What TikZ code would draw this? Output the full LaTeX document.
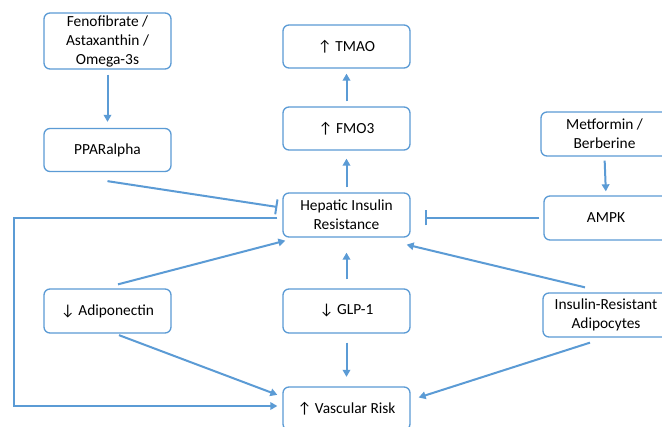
\documentclass[tikz,border=0pt]{standalone}
\usepackage{fontspec}
\setmainfont{Carlito}
\usetikzlibrary{arrows.meta,calc}
\definecolor{bblue}{HTML}{5B9BD5}
\begin{document}
\begin{tikzpicture}[x=1pt,y=-1pt,
  box/.style={draw=bblue,line width=1.3pt,rounded corners=6pt,align=center,
    inner sep=2pt,font=\fontsize{15.4}{19}\selectfont,text=black},
  arr/.style={draw=bblue,line width=2pt,-{Triangle[length=7pt,width=7.5pt]}},
  inh/.style={draw=bblue,line width=2pt,-{Bar[width=15pt,line width=2pt]}}]
\useasboundingbox (0,0) rectangle (662,427);
\fill[white] (0,0) rectangle (662,427);
% nodes
\node[box,minimum width=127pt,minimum height=56pt] (feno) at (107.5,41) {Fenofibrate /\\Astaxanthin /\\Omega-3s};
\node[box,minimum width=127pt,minimum height=43pt] (ppar) at (107.5,150) {PPARalpha};
\node[box,minimum width=127pt,minimum height=43pt] (tmao) at (346.5,46.5) {↑ TMAO};
\node[box,minimum width=127pt,minimum height=43pt] (fmo) at (346.5,128.5) {↑ FMO3};
\node[box,minimum width=127pt,minimum height=44pt] (met) at (604.5,134) {Metformin /\\Berberine};
\node[box,minimum width=124pt,minimum height=44pt] (ampk) at (606,218) {AMPK};
\node[box,minimum width=127pt,minimum height=44pt] (hep) at (346.5,215) {Hepatic Insulin\\Resistance};
\node[box,minimum width=127pt,minimum height=44pt] (adipo) at (107.5,311) {↓ Adiponectin};
\node[box,minimum width=127pt,minimum height=44pt] (glp) at (346.5,311) {↓ GLP-1};
\node[box,minimum width=126pt,minimum height=44pt] (ira) at (606,315) {Insulin-Resistant\\Adipocytes};
\node[box,minimum width=127pt,minimum height=43pt] (vasc) at (346.5,408.5) {↑ Vascular Risk};
% connectors
\draw[arr,shorten <=5pt,shorten >=6pt] (feno.south) -- (ppar.north);
\draw[arr,shorten <=5pt,shorten >=8pt] (hep.north) -- (fmo.south);
\draw[arr,shorten <=5pt,shorten >=5pt] (fmo.north) -- (tmao.south);
\draw[arr,shorten <=4pt,shorten >=4pt] (met.south) -- (ampk.north);
\draw[inh] ($(ppar.south)+(0,9)$) -- ($(hep.west)+(-5,-8)$);
\draw[inh] ($(ampk.west)+(-4,0)$) -- ($(hep.east)+(14,3)$);
\coordinate (lc) at (14,218);
\draw[arr] ($(hep.west)+(-5,3)$) -- (lc) |- ($(vasc.west)+(-5,-2.5)$);
\draw[arr] ($(adipo.north)+(10.5,-4)$) -- ($(hep.south west)+(3,3)$);
\draw[arr] ($(adipo.south)+(11.5,1.5)$) -- ($(vasc.north west)+(-5,8.5)$);
\draw[arr,shorten <=9pt,shorten >=15pt] (glp.north) -- (hep.south);
\draw[arr,shorten <=9pt,shorten >=9.5pt] (glp.south) -- (vasc.north);
\draw[arr] ($(ira.north)+(-21,-5)$) -- ($(hep.south east)+(-4,7)$);
\draw[arr] ($(ira.south)+(-16,5)$) -- ($(vasc.east)+(8,-11)$);
\end{tikzpicture}
\end{document}
